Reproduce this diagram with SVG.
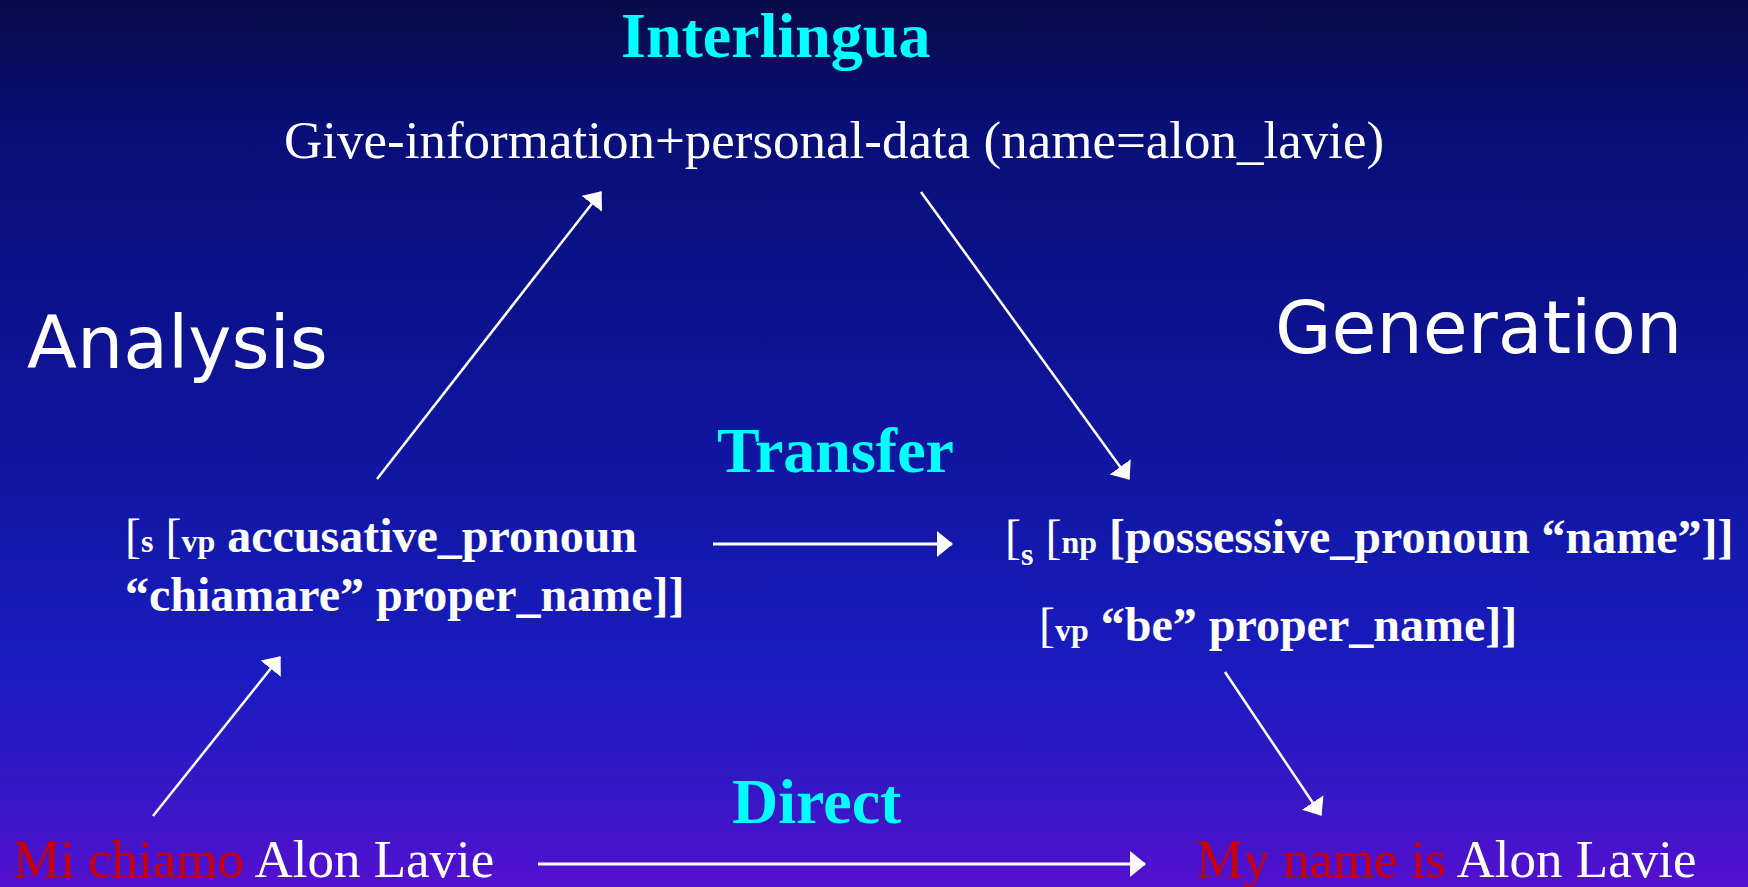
<svg xmlns="http://www.w3.org/2000/svg" width="1748" height="887" viewBox="0 0 1748 887">
<defs>
<linearGradient id="bg" x1="0" y1="0" x2="0" y2="1">
<stop offset="0" stop-color="#060b48"/>
<stop offset="0.15" stop-color="#080f78"/>
<stop offset="0.4" stop-color="#0d1392"/>
<stop offset="0.62" stop-color="#1419ae"/>
<stop offset="0.76" stop-color="#1a1cc0"/>
<stop offset="0.88" stop-color="#3318c4"/>
<stop offset="1" stop-color="#5410d0"/>
</linearGradient>
<marker id="ah" markerUnits="userSpaceOnUse" markerWidth="16" markerHeight="26" viewBox="0 0 16 26" refX="15" refY="13" orient="auto">
<path d="M0,0 L16,13 L0,26 Z" fill="#ffffff"/>
</marker>
<style>
.cy{font-family:"Liberation Serif","Times New Roman",serif;font-weight:bold;font-size:64px;fill:#00ffff}
.rg{font-family:"Liberation Serif","Times New Roman",serif;font-size:53px;fill:#ffffff}
.bd{font-family:"Liberation Serif","Times New Roman",serif;font-size:48px;fill:#ffffff;font-weight:bold}
.sub{font-size:32px}
.br{font-weight:normal}
.sn{font-family:"DejaVu Sans",Verdana,sans-serif;font-size:73px;fill:#ffffff}
.red{fill:#cc0000}
.c{stroke:#ffffff;stroke-width:2.5;fill:none;marker-end:url(#ah)}
.c3{stroke:#ffffff;stroke-width:3;fill:none;marker-end:url(#ah)}
</style>
</defs>
<rect width="1748" height="887" fill="url(#bg)"/>
<g id="labels">
<text class="cy" x="621" y="57">Interlingua</text>
<text class="cy" x="717" y="472">Transfer</text>
<text class="cy" x="732" y="823">Direct</text>
<text class="sn" x="27" y="368">Analysis</text>
<text class="sn" x="1275" y="353">Generation</text>
</g>
<g id="interlingua">
<text class="rg" x="284" y="158">Give-information+personal-data (name=alon_lavie)</text>
</g>
<g id="source-syntax">
<text class="bd" x="125" y="552"><tspan class="br">[</tspan><tspan class="sub">s</tspan><tspan class="br"> [</tspan><tspan class="sub">vp</tspan> accusative_pronoun</text>
<text class="bd" x="125" y="611">“chiamare” proper_name]]</text>
</g>
<g id="target-syntax">
<text class="bd" x="1005" y="553"><tspan class="br">[</tspan><tspan class="sub" dy="12">s</tspan><tspan class="br" dy="-12"> [</tspan><tspan class="sub">np</tspan> [possessive_pronoun “name”]]</text>
<text class="bd" x="1039" y="641"><tspan class="br">[</tspan><tspan class="sub">vp</tspan> “be” proper_name]]</text>
</g>
<g id="source-sentence">
<text class="rg" x="13" y="877"><tspan class="red">Mi chiamo</tspan> Alon Lavie</text>
</g>
<g id="target-sentence">
<text class="rg" x="1196" y="877"><tspan class="red">My name is</tspan> Alon Lavie</text>
</g>
<g id="connectors">
<line class="c" x1="153" y1="816" x2="280" y2="657"/>
<line class="c" x1="377" y1="479" x2="601" y2="192"/>
<line class="c" x1="921" y1="192" x2="1129" y2="479"/>
<line class="c" x1="1225" y1="672" x2="1321" y2="815"/>
<line class="c3" x1="713" y1="544" x2="952" y2="544"/>
<line class="c3" x1="538" y1="864" x2="1145" y2="864"/>
</g>
</svg>
